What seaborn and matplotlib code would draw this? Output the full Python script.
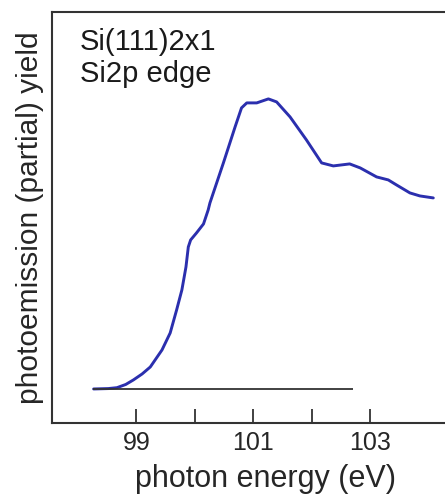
import matplotlib
matplotlib.use("Agg")
import matplotlib.pyplot as plt
import seaborn as sns
import pandas as pd

# Si 2p absorption edge, partial-yield spectrum (arbitrary units, baseline = 0)
photon_energy = [98.27, 98.52, 98.67, 98.82, 98.95, 99.10, 99.24, 99.44, 99.58,
                 99.69, 99.78, 99.85, 99.89, 99.93, 100.03, 100.15, 100.23,
                 100.26, 100.49, 100.69, 100.80, 100.89, 101.06, 101.26, 101.40,
                 101.63, 101.91, 102.17, 102.37, 102.65, 102.83, 103.11, 103.31,
                 103.45, 103.68, 103.85, 104.08]
yield_signal = [0.00, 0.004, 0.013, 0.045, 0.09, 0.15, 0.22, 0.39, 0.56,
                0.79, 0.99, 1.22, 1.42, 1.49, 1.56, 1.65, 1.79,
                1.86, 2.26, 2.62, 2.81, 2.86, 2.86, 2.90, 2.87,
                2.72, 2.49, 2.26, 2.23, 2.25, 2.21, 2.12, 2.09,
                2.04, 1.96, 1.93, 1.91]

baseline_start = 98.26
baseline_end = 102.71
baseline_level = 0.0

major_ticks = [99, 101, 103]
minor_ticks = [100, 102]

sns.set_style("white")
plt.rcParams["font.family"] = ["Liberation Sans", "DejaVu Sans"]

fig = plt.figure(figsize=(4.45, 4.95), dpi=100)
ax = fig.add_axes([0.117, 0.1455, 0.883, 0.8305])

df = pd.DataFrame({"energy": photon_energy, "signal": yield_signal})
sns.lineplot(data=df, x="energy", y="signal", ax=ax, color="#2b2fae",
             linewidth=2.1, sort=False, solid_joinstyle="round",
             solid_capstyle="round")
ax.hlines(baseline_level, baseline_start, baseline_end, color="#333333",
          linewidth=1.3)

ax.set_xlim(97.56, 104.28)
ax.set_ylim(-0.34, 3.77)

ax.set_xticks(major_ticks)
ax.set_xticks(minor_ticks, minor=True)
ax.set_xticklabels([str(t) for t in major_ticks])
ax.set_yticks([])
ax.tick_params(axis="x", which="both", direction="in", length=10, width=1.3,
               color="#333333", labelsize=18, pad=6, bottom=True)

for side in ("left", "bottom", "top"):
    ax.spines[side].set_color("#333333")
    ax.spines[side].set_linewidth(1.5)
ax.spines["right"].set_visible(False)

ax.set_xlabel("photon energy (eV)", fontsize=22)
ax.xaxis.set_label_coords(0.542, -0.10)
ax.set_ylabel("photoemission (partial) yield", fontsize=21.5, labelpad=6)

ax.text(0.07, 0.96, "Si(111)2x1\nSi2p edge", transform=ax.transAxes,
        fontsize=21, va="top", ha="left", linespacing=1.15, color="#1a1a1a")

fig.savefig("out.png", dpi=100)
